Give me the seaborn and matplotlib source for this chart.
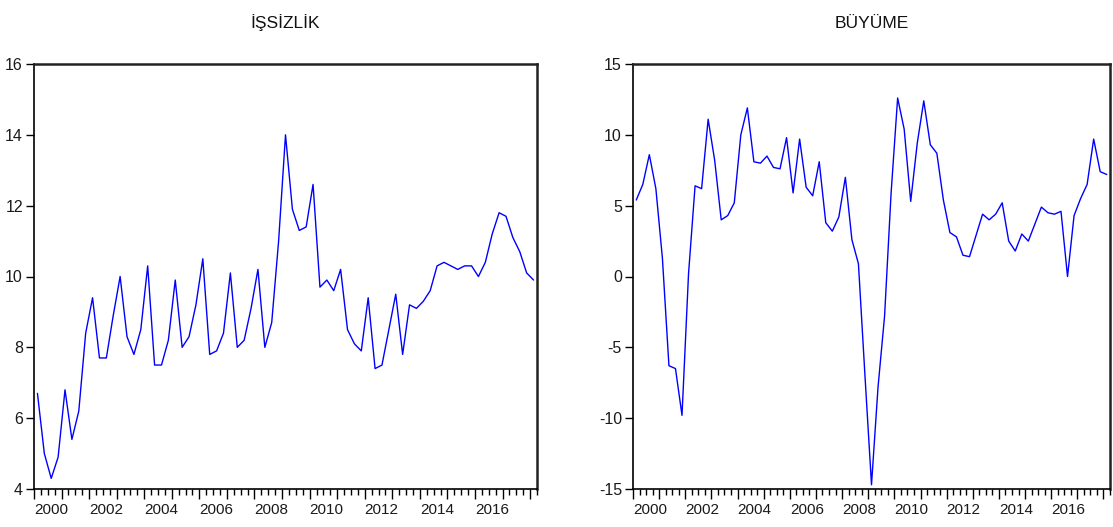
import numpy as np
import pandas as pd
import seaborn as sns
import matplotlib.pyplot as plt
from matplotlib.ticker import MultipleLocator, FixedLocator

# quarterly data, 2000Q1 - 2018Q1
quarters = pd.period_range('2000Q1', '2018Q1', freq='Q')

issizlik = [6.7, 5.0, 4.3, 4.9, 6.8, 5.4, 6.2, 8.4, 9.4, 7.7, 7.7, 8.9,
            10.0, 8.3, 7.8, 8.5, 10.3, 7.5, 7.5, 8.2, 9.9, 8.0, 8.3, 9.2,
            10.5, 7.8, 7.9, 8.4, 10.1, 8.0, 8.2, 9.1, 10.2, 8.0, 8.7, 11.0,
            14.0, 11.9, 11.3, 11.4, 12.6, 9.7, 9.9, 9.6, 10.2, 8.5, 8.1, 7.9,
            9.4, 7.4, 7.5, 8.5, 9.5, 7.8, 9.2, 9.1, 9.3, 9.6, 10.3, 10.4,
            10.3, 10.2, 10.3, 10.3, 10.0, 10.4, 11.2, 11.8, 11.7, 11.1, 10.7, 10.1,
            9.9]

buyume = [5.4, 6.5, 8.6, 6.2, 1.3, -6.3, -6.5, -9.8, 0.2, 6.4, 6.2, 11.1,
          8.2, 4.0, 4.3, 5.2, 10.0, 11.9, 8.1, 8.0, 8.5, 7.7, 7.6, 9.8,
          5.9, 9.7, 6.3, 5.7, 8.1, 3.8, 3.2, 4.2, 7.0, 2.6, 0.9, -7.0,
          -14.7, -7.8, -2.8, 5.9, 12.6, 10.4, 5.3, 9.4, 12.4, 9.3, 8.7, 5.4,
          3.1, 2.8, 1.5, 1.4, 2.9, 4.4, 4.0, 4.4, 5.2, 2.5, 1.8, 3.0,
          2.5, 3.7, 4.9, 4.5, 4.4, 4.6, 0.0, 4.3, 5.5, 6.5, 9.7, 7.4,
          7.2]

df = pd.DataFrame({
    'x': quarters.year + (quarters.quarter - 0.5) / 4,
    'ISSIZLIK': issizlik,
    'BUYUME': buyume,
})

sns.set_style('ticks')
plt.rcParams['font.family'] = ['Liberation Sans', 'DejaVu Sans']
plt.rcParams['axes.unicode_minus'] = False
plt.rcParams['text.color'] = 'black'
plt.rcParams['xtick.color'] = 'black'
plt.rcParams['ytick.color'] = 'black'
plt.rcParams['xtick.labelcolor'] = '#1a1a1a'
plt.rcParams['ytick.labelcolor'] = '#1a1a1a'

fig = plt.figure(figsize=(11.13, 5.27), dpi=100)
ax1 = fig.add_axes([34 / 1113, 1 - 489 / 527, 503 / 1113, 425 / 527])
ax2 = fig.add_axes([633 / 1113, 1 - 489 / 527, 477 / 1113, 425 / 527])

panels = [(ax1, 'ISSIZLIK', 'İŞSİZLİK', (4, 16), 2),
          (ax2, 'BUYUME', 'BÜYÜME', (-15, 15), 5)]

for ax, col, title, ylim, ystep in panels:
    sns.lineplot(x='x', y=col, data=df, color='blue', linewidth=1, ax=ax)
    ax.set_xlim(2000, 2018.25)
    ax.set_ylim(*ylim)
    ax.yaxis.set_major_locator(MultipleLocator(ystep))

    years = np.arange(2000, 2019)
    ax.xaxis.set_major_locator(FixedLocator(years))
    ax.xaxis.set_minor_locator(MultipleLocator(0.25))
    ax.set_xticklabels([str(y) if y % 2 == 0 and y < 2018 else '' for y in years])
    for lab in ax.get_xticklabels():
        lab.set_ha('left')

    ax.tick_params(axis='x', which='major', length=7, width=1, labelsize=11, pad=3)
    ax.tick_params(axis='x', which='minor', length=4, width=1)
    ax.tick_params(axis='y', length=6, width=1, labelsize=11.5, pad=2)

    for side in ['left', 'bottom']:
        ax.spines[side].set_linewidth(1.2)
        ax.spines[side].set_color('black')
    for side in ['top', 'right']:
        ax.spines[side].set_linewidth(1.8)
        ax.spines[side].set_color('#222222')

    ax.set_xlabel('')
    ax.set_ylabel('')
    ax.set_title(title, fontsize=12.5, pad=26, color='#111111')

fig.savefig('out.png', dpi=100)
